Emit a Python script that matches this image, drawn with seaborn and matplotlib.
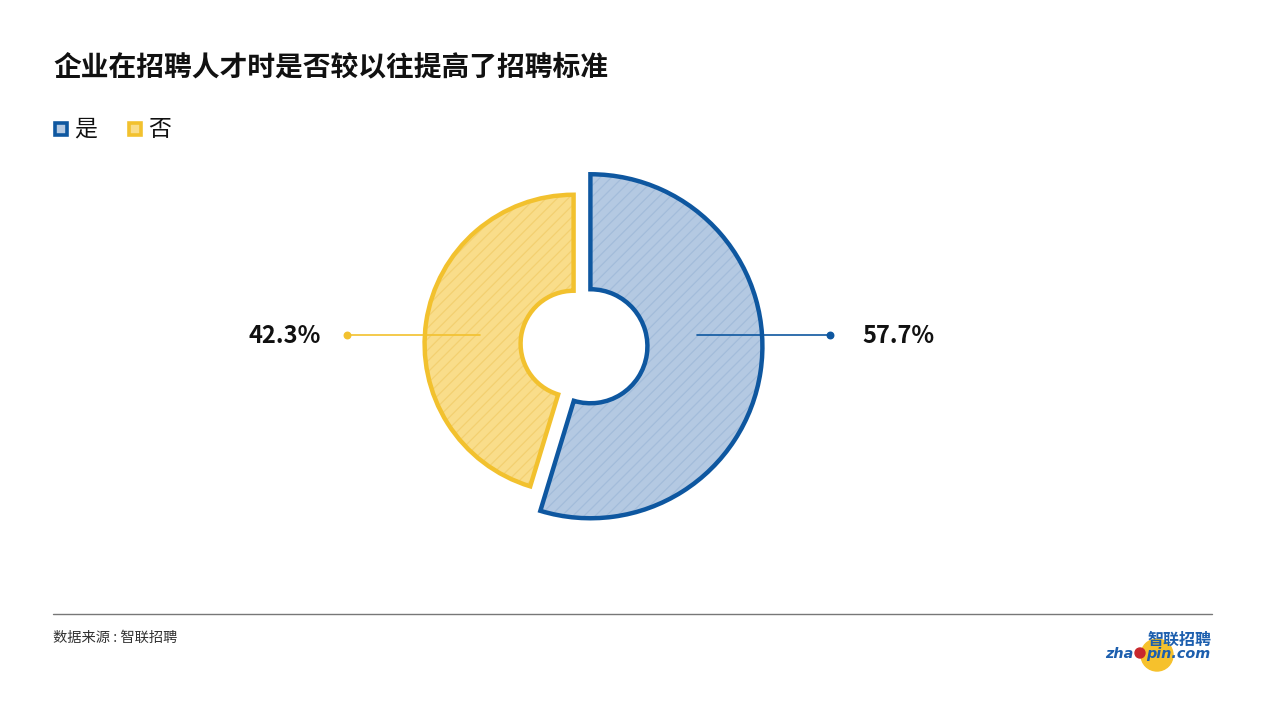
import matplotlib
matplotlib.use('Agg')
import matplotlib.pyplot as plt
import seaborn as sns
from matplotlib.patches import Rectangle, Circle, Wedge

# data
labels = ['是', '否']
shares = [57.7, 42.3]          # printed labels
arc_shares = [54.7, 45.3]      # angular split as drawn in the chart
edge_colors = ['#0e57a0', '#f2c12e']
fill_colors = ['#b4c9e2', '#f9dd8a']
hatch_colors = ['#a3bcda', '#f3d071']
title = '企业在招聘人才时是否较以往提高了招聘标准'
source = '数据来源 : 智联招聘'

sns.set_theme(style='white')
plt.rcParams['font.family'] = ['Noto Sans CJK SC', 'DejaVu Sans']
plt.rcParams['hatch.linewidth'] = 0.9

W, H = 1265, 711
fig = plt.figure(figsize=(W / 100, H / 100), dpi=100)
fig.patch.set_facecolor('white')
ax = fig.add_axes([0, 0, 1, 1])

# pie geometry in pixels (y up)
cx, cy = 582, H - 345
R = 172
r_in = 57
r_yellow = 149
r_in_yellow = 53

wedges, _ = ax.pie(arc_shares, colors=fill_colors, startangle=90, counterclock=False,
                   radius=R, center=(cx, cy), explode=[8.5, 8.5],
                   wedgeprops=dict(width=R - r_in, linewidth=0))
# the smaller slice is drawn with a smaller outer radius
wedges[1].set_radius(r_yellow)
wedges[1].set_width(r_yellow - r_in_yellow)

for w, ec, hc in zip(wedges, edge_colors, hatch_colors):
    w.set_zorder(2)
    # hatch layer
    ax.add_patch(Wedge(w.center, w.r, w.theta1, w.theta2, width=w.width,
                       facecolor='none', edgecolor=hc, linewidth=0.3,
                       hatch='///', zorder=3))
    # outline on top of hatch
    ax.add_patch(Wedge(w.center, w.r, w.theta1, w.theta2, width=w.width,
                       facecolor='none', edgecolor=ec, linewidth=3.2,
                       joinstyle='miter', zorder=4))

ax.set_xlim(0, W)
ax.set_ylim(0, H)
ax.set_aspect('auto')
ax.axis('off')

# leader lines and labels
ly = H - 335
ax.plot([480, 347], [ly, ly], color=edge_colors[1], lw=1.2, zorder=5)
ax.plot([697, 830], [ly, ly], color=edge_colors[0], lw=1.2, zorder=5)
ax.scatter([347], [ly], s=22, color=edge_colors[1], zorder=6)
ax.scatter([830], [ly], s=22, color=edge_colors[0], zorder=6)
ax.text(321, ly - 1, f'{shares[1]}%', ha='right', va='center', fontsize=17,
        fontweight='bold', color='#111111')
ax.text(862, ly - 1, f'{shares[0]}%', ha='left', va='center', fontsize=17,
        fontweight='bold', color='#111111')

# title
ax.text(53, H - 67, title, ha='left', va='center', fontsize=20, fontweight='bold',
        color='#111111')

# legend
lx = [53, 127]
for x0, lab, ec, fc in zip(lx, labels, edge_colors, fill_colors):
    ax.add_patch(Rectangle((x0 + 1.5, H - 136 + 1.5), 12, 12, facecolor=fc, edgecolor=ec,
                           linewidth=2.6))
    ax.text(x0 + 21, H - 129, lab, ha='left', va='center', fontsize=16.5, color='#111111')

# footer
ax.plot([53, 1212], [H - 614, H - 614], color='#777777', lw=1)
ax.text(53, H - 638, source, ha='left', va='center', fontsize=10.3, color='#333333')

# logo
ax.add_patch(Circle((1157, H - 655), 16, color='#f6c12c', zorder=2))
ax.text(1212, H - 648, '智联招聘', ha='right', va='bottom', fontsize=11.5, fontweight='bold',
        color='#1d5fae', zorder=3)
ax.text(1105, H - 647, 'zha', ha='left', va='top', fontsize=10.4, fontweight='bold',
        color='#1d5fae', family='DejaVu Sans', style='italic', zorder=3)
ax.add_patch(Circle((1140, H - 653), 5, color='#c8282d', zorder=3))
ax.text(1146, H - 647, 'pin.com', ha='left', va='top', fontsize=10.4, fontweight='bold',
        color='#1d5fae', family='DejaVu Sans', style='italic', zorder=3)

fig.savefig('out.png', dpi=100, facecolor='white')
